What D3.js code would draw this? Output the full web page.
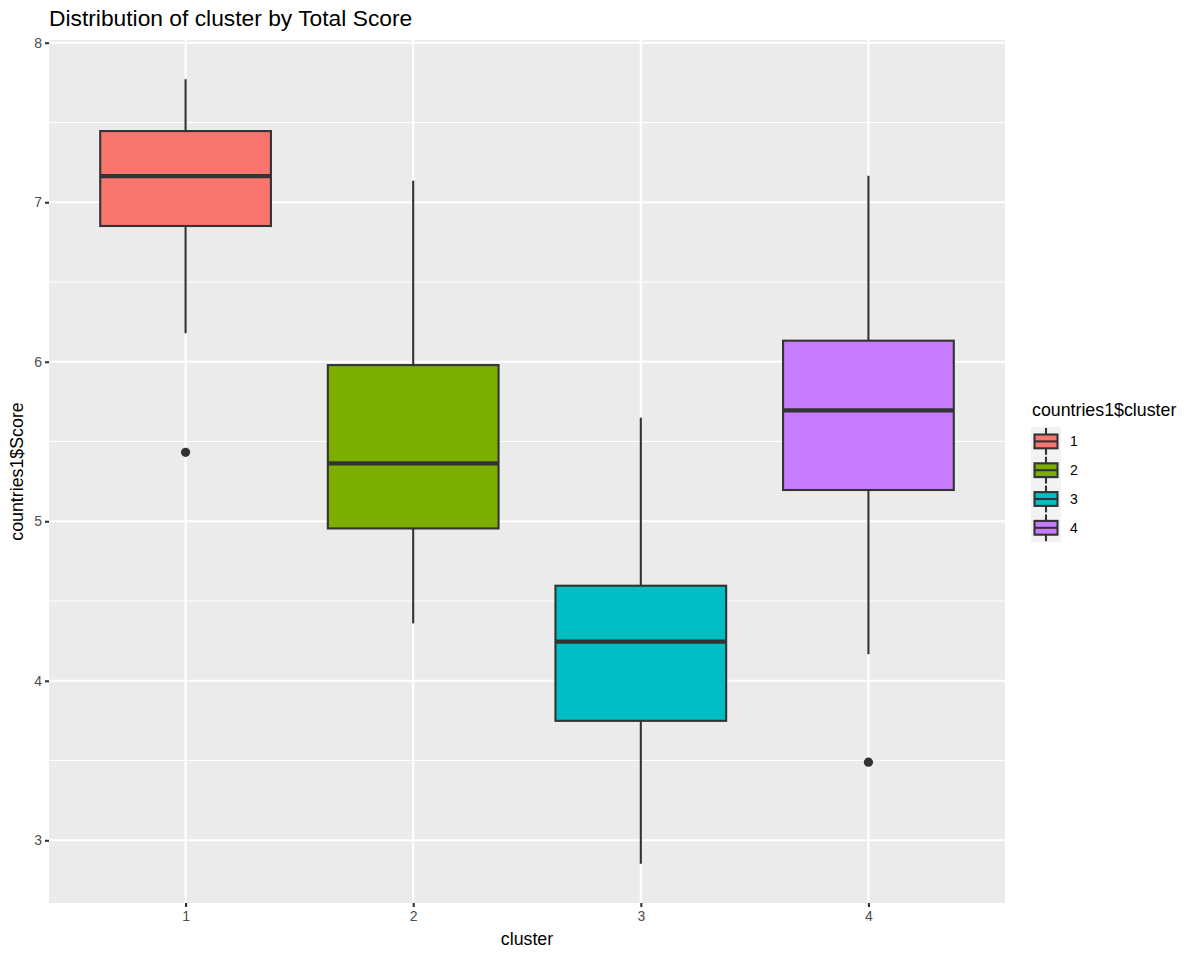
<!DOCTYPE html>
<html lang="en">
<head>
    <meta charset="UTF-8">
    <title>Distribution of cluster by Total Score</title>
    <style>
        body { margin: 0; background: #fff; }
        #chart { font-family: "Liberation Sans", Arial, sans-serif; }
    </style>
    <script src="https://d3js.org/d3.v7.min.js"></script>
</head>
<body>
    <div id="chart"></div>
    <script>
        // cluster labels and box statistics
        const clusters = ["1", "2", "3", "4"];
        const whiskerLow = [6.179, 4.360, 2.853, 4.167];
        const q1 = [6.851, 4.955, 3.749, 5.196];
        const medians = [7.164, 5.363, 4.245, 5.695];
        const q3 = [7.446, 5.979, 4.596, 6.132];
        const whiskerHigh = [7.771, 7.135, 5.649, 7.166];
        const outliers = [["1", 5.432], ["4", 3.490]];
        const colors = ["#F8766D", "#7CAE00", "#00BFC4", "#C77CFF"];
        const yTicks = [3, 4, 5, 6, 7, 8];
        const yMinor = [3.5, 4.5, 5.5, 6.5, 7.5];

        const W = 1200, H = 960;
        const panel = { left: 49, right: 1005, top: 40, bottom: 903 };

        const boxes = clusters.map((c, i) => ({
            cluster: c, lo: whiskerLow[i], q1: q1[i], med: medians[i],
            q3: q3[i], hi: whiskerHigh[i], color: colors[i]
        }));

        // ggplot style 5% expansion on the continuous axis
        const allVals = whiskerLow.concat(whiskerHigh, outliers.map(d => d[1]));
        const yMin = d3.min(allVals), yMax = d3.max(allVals);
        const pad = (yMax - yMin) * 0.05;

        const x = d3.scalePoint()
            .domain(clusters)
            .range([panel.left, panel.right])
            .padding(0.6);

        const y = d3.scaleLinear()
            .domain([yMin - pad, yMax + pad])
            .range([panel.bottom, panel.top]);

        const boxW = x.step() * 0.75;
        const lw = 2.1;

        const svg = d3.select("#chart")
            .append("svg")
            .attr("width", W)
            .attr("height", H);

        // panel background
        svg.append("rect")
            .attr("x", panel.left)
            .attr("y", panel.top)
            .attr("width", panel.right - panel.left)
            .attr("height", panel.bottom - panel.top)
            .attr("fill", "#EBEBEB");

        // grid lines
        svg.selectAll(".minor")
            .data(yMinor)
            .enter().append("line")
            .attr("x1", panel.left).attr("x2", panel.right)
            .attr("y1", d => y(d)).attr("y2", d => y(d))
            .attr("stroke", "#fff").attr("stroke-width", 1.1);

        svg.selectAll(".major-y")
            .data(yTicks)
            .enter().append("line")
            .attr("x1", panel.left).attr("x2", panel.right)
            .attr("y1", d => y(d)).attr("y2", d => y(d))
            .attr("stroke", "#fff").attr("stroke-width", 2.1);

        svg.selectAll(".major-x")
            .data(clusters)
            .enter().append("line")
            .attr("x1", d => x(d)).attr("x2", d => x(d))
            .attr("y1", panel.top).attr("y2", panel.bottom)
            .attr("stroke", "#fff").attr("stroke-width", 2.1);

        // boxplots
        const g = svg.selectAll(".box")
            .data(boxes)
            .enter().append("g")
            .attr("class", "box");

        g.append("line")
            .attr("x1", d => x(d.cluster)).attr("x2", d => x(d.cluster))
            .attr("y1", d => y(d.hi)).attr("y2", d => y(d.q3))
            .attr("stroke", "#333").attr("stroke-width", lw);

        g.append("line")
            .attr("x1", d => x(d.cluster)).attr("x2", d => x(d.cluster))
            .attr("y1", d => y(d.q1)).attr("y2", d => y(d.lo))
            .attr("stroke", "#333").attr("stroke-width", lw);

        g.append("rect")
            .attr("x", d => x(d.cluster) - boxW / 2)
            .attr("y", d => y(d.q3))
            .attr("width", boxW)
            .attr("height", d => y(d.q1) - y(d.q3))
            .attr("fill", d => d.color)
            .attr("stroke", "#333").attr("stroke-width", lw);

        g.append("line")
            .attr("x1", d => x(d.cluster) - boxW / 2)
            .attr("x2", d => x(d.cluster) + boxW / 2)
            .attr("y1", d => y(d.med)).attr("y2", d => y(d.med))
            .attr("stroke", "#333").attr("stroke-width", 4.2);

        svg.selectAll(".outlier")
            .data(outliers)
            .enter().append("circle")
            .attr("cx", d => x(d[0]))
            .attr("cy", d => y(d[1]))
            .attr("r", 4.6)
            .attr("fill", "#333");

        // axes
        const yAxis = svg.append("g")
            .attr("transform", `translate(${panel.left},0)`)
            .call(d3.axisLeft(y).tickValues(yTicks).tickFormat(d3.format("d")).tickSize(4).tickPadding(3));
        const xAxis = svg.append("g")
            .attr("transform", `translate(0,${panel.bottom})`)
            .call(d3.axisBottom(x).tickSize(4).tickPadding(4));
        [yAxis, xAxis].forEach(a => {
            a.select(".domain").remove();
            a.selectAll(".tick line").attr("stroke", "#333").attr("stroke-width", lw);
            a.selectAll(".tick text")
                .attr("fill", "#4D4D4D")
                .style("font-size", "14px")
                .style("font-family", "Liberation Sans, Arial, sans-serif");
        });

        // titles
        svg.append("text")
            .attr("x", panel.left)
            .attr("y", 26)
            .style("font-size", "22.8px")
            .text("Distribution of cluster by Total Score");

        svg.append("text")
            .attr("x", (panel.left + panel.right) / 2)
            .attr("y", 945)
            .attr("text-anchor", "middle")
            .style("font-size", "17.8px")
            .text("cluster");

        svg.append("text")
            .attr("transform", `translate(23,${(panel.top + panel.bottom) / 2}) rotate(-90)`)
            .attr("text-anchor", "middle")
            .style("font-size", "17.8px")
            .text("countries1$Score");

        // legend
        const legX = 1031, legY = 427, keyH = 28.8, keyW = 30;
        svg.append("text")
            .attr("x", legX + 1)
            .attr("y", 416)
            .style("font-size", "17.8px")
            .text("countries1$cluster");

        const leg = svg.selectAll(".legend")
            .data(boxes)
            .enter().append("g")
            .attr("class", "legend")
            .attr("transform", (d, i) => `translate(${legX},${legY + i * keyH})`);

        leg.append("rect")
            .attr("width", keyW).attr("height", keyH)
            .attr("fill", "#F2F2F2");
        leg.append("line")
            .attr("x1", keyW / 2).attr("x2", keyW / 2)
            .attr("y1", 1).attr("y2", keyH - 1)
            .attr("stroke", "#333").attr("stroke-width", lw);
        leg.append("rect")
            .attr("x", 3.5).attr("y", 7.5)
            .attr("width", keyW - 7).attr("height", keyH - 15)
            .attr("fill", d => d.color)
            .attr("stroke", "#333").attr("stroke-width", lw);
        leg.append("line")
            .attr("x1", 3.5).attr("x2", keyW - 3.5)
            .attr("y1", keyH / 2).attr("y2", keyH / 2)
            .attr("stroke", "#333").attr("stroke-width", lw);
        leg.append("text")
            .attr("x", keyW + 9)
            .attr("y", keyH / 2)
            .attr("dy", "0.35em")
            .style("font-size", "14px")
            .text(d => d.cluster);
    </script>
</body>
</html>
